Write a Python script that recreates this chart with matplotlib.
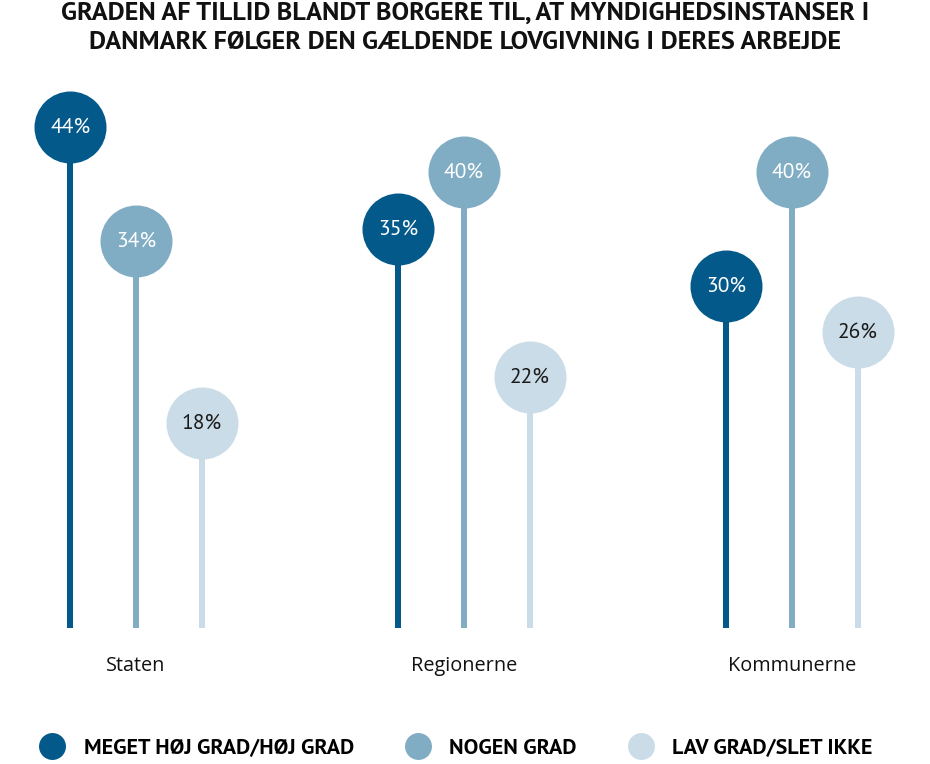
import matplotlib
matplotlib.use("Agg")
import matplotlib.pyplot as plt
from matplotlib.lines import Line2D
from matplotlib import font_manager
import numpy as np

title = "GRADEN AF TILLID BLANDT BORGERE TIL, AT MYNDIGHEDSINSTANSER I\nDANMARK FØLGER DEN GÆLDENDE LOVGIVNING I DERES ARBEJDE"
categories = ["Staten", "Regionerne", "Kommunerne"]
series_names = ["MEGET HØJ GRAD/HØJ GRAD", "NOGEN GRAD", "LAV GRAD/SLET IKKE"]
hoj = [44, 35, 30]
nogen = [34, 40, 40]
lav = [18, 22, 26]
series = [hoj, nogen, lav]
colors = ["#02598a", "#80adc4", "#cadce7"]
text_colors = ["white", "white", "#1a1a1a"]

names = {f.name for f in font_manager.fontManager.ttflist}
ptsans = ["PT Sans", "DejaVu Sans"] if "PT Sans" in names else ["DejaVu Sans"]

W, H = 930, 764
fig = plt.figure(figsize=(W / 100, H / 100), dpi=100)

base_px = 628
top_px = base_px - 11.39 * 50
ax = fig.add_axes([0, (H - base_px) / H, 1, (base_px - top_px) / H])
ax.set_ylim(0, 50)
ax.set_xlim(-136 / 328, (W - 136) / 328)
ax.axis("off")

offsets = [-0.2, 0, 0.2]
radius_px = 36
ypx = (base_px - top_px) / 50  # px per unit
r_units = radius_px / ypx
ms = 2 * radius_px * 72 / 100

x = np.arange(len(categories))
for s, (vals, col, tc) in enumerate(zip(series, colors, text_colors)):
    for i, v in enumerate(vals):
        xi = x[i] + offsets[s]
        ax.plot([xi, xi], [0, v - r_units * 0.9], color=col, lw=6 * 0.72,
                solid_capstyle="butt", zorder=1)
        ax.plot([xi], [v], marker="o", ms=ms, color=col, mec="none", zorder=2)
        ax.text(xi, v, f"{v}%", ha="center", va="center", color=tc,
                fontsize=15.5, family=ptsans, zorder=3)

for i, c in enumerate(categories):
    ax.text(x[i], -3.3, c, ha="center", va="center", fontsize=14.3,
            family="Open Sans", color="#111111")

fig.text(0.5, 1 - 28 / H, title, ha="center", va="center", fontsize=18.9,
         fontweight="bold", family=ptsans, linespacing=1.37, color="#111111")

handles = [Line2D([], [], marker="o", ls="none", ms=19.4, color=c, mec="none")
           for c in colors]
fig.legend(handles, series_names, loc="center left",
           bbox_to_anchor=(19 / W, 1 - 748 / H), ncol=3, frameon=False,
           prop=dict(family=ptsans, weight="bold", size=15.8),
           handletextpad=0.85, columnspacing=2.3, handlelength=1.2)

fig.savefig("out.png", dpi=100, facecolor="white")
